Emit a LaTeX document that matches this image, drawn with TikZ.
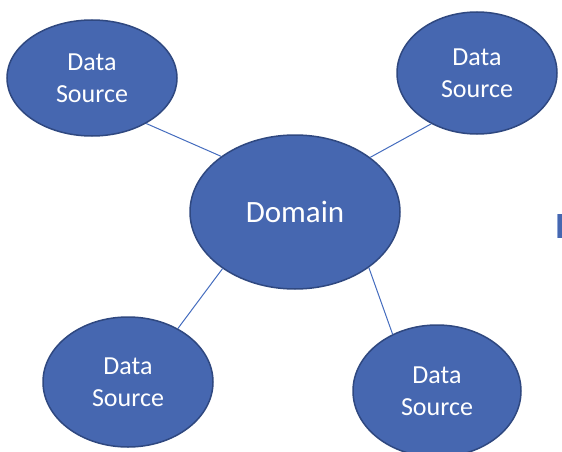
\documentclass[tikz,border=0pt]{standalone}
\usepackage{fontspec}
\setmainfont{Carlito}
\usetikzlibrary{shapes.geometric}
\definecolor{efill}{RGB}{70,103,176}
\definecolor{eline}{RGB}{47,72,128}
\definecolor{cline}{RGB}{68,108,190}
\tikzset{
  src/.style={ellipse, draw=eline, line width=1.5pt, fill=efill, text=white,
    inner sep=0pt, align=center, font=\fontsize{26}{32}\selectfont},
  conn/.style={draw=cline, line width=1pt}
}
\begin{document}
\begin{tikzpicture}[x=1pt,y=-1pt]
\useasboundingbox (0,0) rectangle (562,452);
\node[src, minimum width=210pt, minimum height=154pt, font=\fontsize{31}{37}\selectfont] (dom) at (295,212) {Domain};
\node[src, minimum width=170pt, minimum height=116pt] (tl) at (92,78) {Data\\Source};
\node[src, minimum width=160pt, minimum height=122pt] (tr) at (477,73) {Data\\Source};
\node[src, minimum width=170pt, minimum height=130pt] (bl) at (128,382) {Data\\Source};
\node[src, minimum width=168pt, minimum height=132pt] (br) at (437,391) {Data\\Source};
\draw[conn] (tl.-40) -- (dom.143);
\draw[conn] (tr.228) -- (dom.36);
\draw[conn] (dom.218) -- (bl.47);
\draw[conn] (dom.-37) -- (br.128);
\fill[efill] (557,214) rectangle (562,238);
\draw[cline!60!white, line width=1pt] (557.5,214) -- (557.5,238);
\end{tikzpicture}
\end{document}
